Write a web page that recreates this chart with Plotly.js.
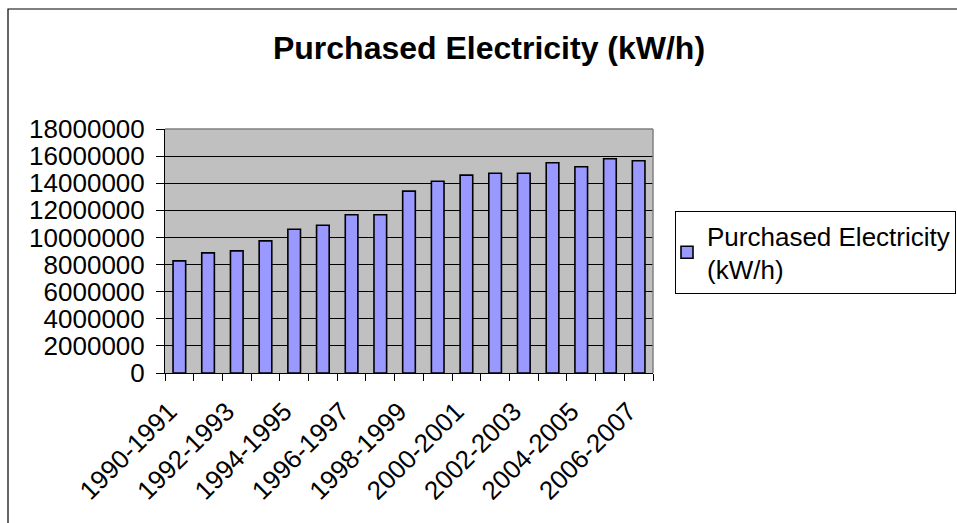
<!DOCTYPE html>
<html>
<head>
<meta charset="utf-8">
<script src="https://cdn.plot.ly/plotly-3.0.1.min.js"></script>
<style>
  html, body { margin: 0; padding: 0; background: #ffffff; }
  #chart { width: 957px; height: 523px; }
</style>
</head>
<body>
<div id="chart"></div>
<script>
// Data
const categories = [
  "1990-1991", "1991-1992", "1992-1993", "1993-1994", "1994-1995", "1995-1996",
  "1996-1997", "1997-1998", "1998-1999", "1999-2000", "2000-2001", "2001-2002",
  "2002-2003", "2003-2004", "2004-2005", "2005-2006", "2006-2007"
];
const purchasedElectricity = [
  8270000, 8860000, 9010000, 9750000, 10610000, 10900000,
  11670000, 11670000, 13420000, 14150000, 14600000, 14740000,
  14740000, 15510000, 15210000, 15800000, 15660000
];
const seriesName = "Purchased Electricity<br>(kW/h)";
const chartTitle = "Purchased Electricity (kW/h)";
const yTickValues = [0, 2000000, 4000000, 6000000, 8000000, 10000000, 12000000, 14000000, 16000000, 18000000];

const FONT = "Arial, 'Liberation Sans', sans-serif";
const tickText = categories.map((c, i) => (i % 2 === 0 ? c : ""));

const trace = {
  type: "bar",
  x: categories,
  y: purchasedElectricity,
  name: seriesName,
  marker: { color: "#9999FF", line: { color: "#000000", width: 1.6 } },
  hoverinfo: "x+y"
};

// plot area in pixels: left 165, right 653, top 129, bottom 373
const L = 165, R = 653, T = 129, B = 373, W = 957, H = 523;
const px = v => (v - L) / (R - L);
const py = v => (B - v) / (B - T);

const layout = {
  width: W, height: H,
  margin: { l: L, r: W - R, t: T, b: H - B, pad: 0, autoexpand: false },
  paper_bgcolor: "#FFFFFF",
  plot_bgcolor: "#C0C0C0",
  font: { family: FONT, color: "#000000", size: 26 },
  title: {
    text: "<b>" + chartTitle + "</b>",
    font: { family: FONT, size: 32, color: "#000000" },
    xref: "container", yref: "container",
    x: 489 / W, y: 1 - 48 / H, xanchor: "center", yanchor: "middle"
  },
  bargap: 0.56,
  showlegend: true,
  legend: {
    x: px(675), y: py(211), xanchor: "left", yanchor: "top",
    bgcolor: "#FFFFFF", bordercolor: "#000000", borderwidth: 1,
    indentation: -9,
    entrywidth: 300, entrywidthmode: "pixels",
    font: { family: FONT, size: 26, color: "#000000" },
    itemclick: false, itemdoubleclick: false
  },
  xaxis: {
    type: "category",
    tickmode: "array",
    tickvals: categories,
    ticktext: tickText,
    tickangle: -45,
    tickson: "boundaries",
    ticks: "outside", ticklen: 7, tickwidth: 1, tickcolor: "#000000",
    ticklabelstandoff: 12,
    ticklabelshift: -10,
    showline: true, linecolor: "#000000", linewidth: 1,
    showgrid: false,
    tickfont: { family: FONT, size: 26, color: "#000000" },
    fixedrange: true
  },
  yaxis: {
    range: [0, 18000000],
    tickmode: "array",
    tickvals: yTickValues,
    tickformat: "d",
    ticks: "outside", ticklen: 8, tickwidth: 1, tickcolor: "#000000",
    ticklabelstandoff: 6,
    showline: true, linecolor: "#000000", linewidth: 1,
    showgrid: true, gridcolor: "#000000", gridwidth: 1,
    zeroline: true, zerolinecolor: "#000000", zerolinewidth: 1,
    tickfont: { family: FONT, size: 26, color: "#000000" },
    fixedrange: true
  },
  shapes: [
    // gray top/right plot-area border
    { type: "line", xref: "paper", yref: "paper", x0: 0, x1: 1, y0: 1, y1: 1,
      line: { color: "#808080", width: 1.5 } },
    { type: "line", xref: "paper", yref: "paper", x0: 1, x1: 1, y0: 0, y1: 1,
      line: { color: "#808080", width: 1.5 } },
    // outer chart border
    { type: "rect", xref: "paper", yref: "paper",
      x0: px(8), x1: px(965), y0: py(531), y1: py(9),
      line: { color: "#000000", width: 1.2 }, fillcolor: "rgba(0,0,0,0)" }
  ]
};

Plotly.newPlot("chart", [trace], layout, { displayModeBar: false, staticPlot: true });
</script>
</body>
</html>
